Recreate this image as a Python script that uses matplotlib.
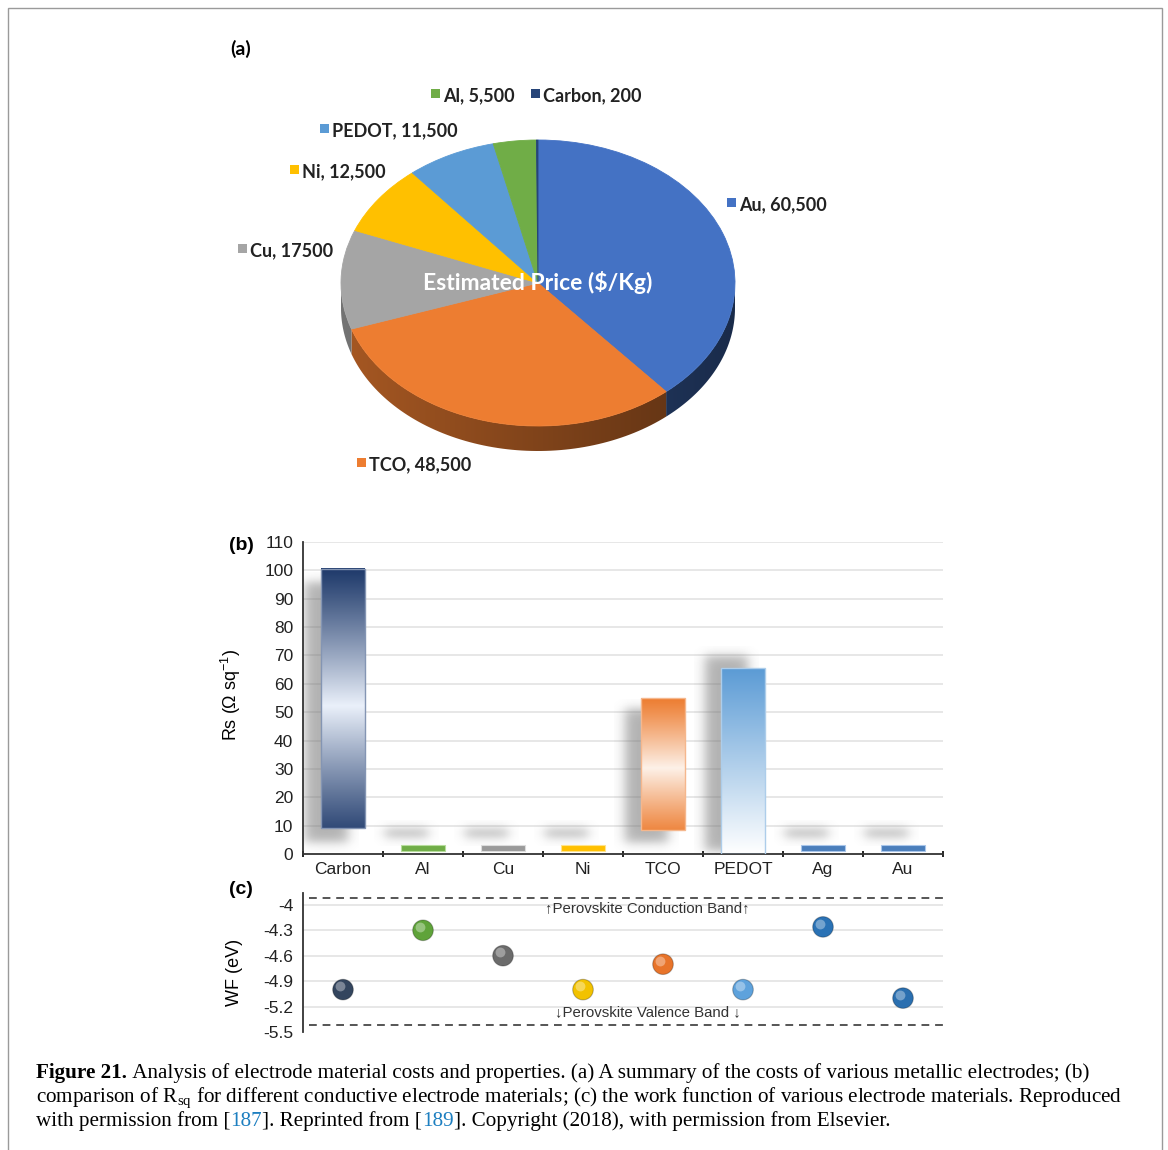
import numpy as np
import matplotlib
matplotlib.use('Agg')
import matplotlib.pyplot as plt
import matplotlib.transforms as mtransforms
from matplotlib.colors import to_rgb
from matplotlib.patches import Polygon, Rectangle

W, H = 1168, 1150

# (a) estimated price ($/Kg)
price_names = ['Au', 'TCO', 'Cu', 'Ni', 'PEDOT', 'Al', 'Carbon']
price_values = [60500, 48500, 17500, 12500, 11500, 5500, 200]
price_text = ['Au, 60,500', 'TCO, 48,500', 'Cu, 17500', 'Ni, 12,500',
              'PEDOT, 11,500', 'Al, 5,500', 'Carbon, 200']
price_colors = ['#4472c4', '#ed7d31', '#a5a5a5', '#ffc000', '#5b9bd5', '#70ad47', '#264478']

# (b) sheet resistance (floating bars)
materials = ['Carbon', 'Al', 'Cu', 'Ni', 'TCO', 'PEDOT', 'Ag', 'Au']
rs_low = [9, 1, 1, 1, 8.5, 0, 1, 1]
rs_high = [100.5, 3, 3, 3, 55, 65.5, 3, 3]
shadow_low = [4, 6, 6, 6, 4, 1, 6, 6]
shadow_high = [96, 8.5, 8.5, 8.5, 51, 70, 8.5, 8.5]
rs_ticks = list(range(0, 111, 10))

# (c) work function
wf = [-5.0, -4.3, -4.6, -5.0, -4.7, -5.0, -4.26, -5.1]
band_edges = [-3.92, -5.42]
wf_ticks = [-4, -4.3, -4.6, -4.9, -5.2, -5.5]
wf_ticklabels = ['-4', '-4.3', '-4.6', '-4.9', '-5.2', '-5.5']

bar_colors = ['#1f3a6b', '#70ad47', '#9a9a9a', '#ffc000', '#ed7d31', '#5b9bd5', '#4a7ebb', '#4a7ebb']
bar_light = ['#eaf0fa', '#b7dd9c', '#dcdcdc', '#ffe38a', '#fdf1e8', '#ffffff', '#a9c6ea', '#a9c6ea']
bar_style = ['mid', 'solid', 'solid', 'solid', 'mid', 'fade', 'solid', 'solid']
ball_colors = ['#33455e', '#5fa33a', '#6b6b6b', '#f2c200', '#e8742a', '#5ea2dc', '#2a72b5', '#2a6fb0']

SANS = ['Liberation Sans', 'DejaVu Sans']
PIEFONT = ['Lato', 'Liberation Sans', 'DejaVu Sans']


def box(x0, y0, x1, y1):
    return [x0 / W, 1 - y1 / H, (x1 - x0) / W, (y1 - y0) / H]


fig = plt.figure(figsize=(W / 100, H / 100), dpi=100)
fig.patch.set_facecolor('white')
fig.add_artist(Rectangle((8 / W, -0.01), 1154 / W, 1 - 8 / H + 0.01, transform=fig.transFigure,
                         fill=False, edgecolor='#9a9a9a', linewidth=1))

# ---------------- (a) pie ----------------
ax_a = fig.add_axes(box(200, 60, 880, 490))
cx, cy, rx, ry = 538, 283, 197, 143
depth = 25 / ry

vals = np.array(price_values, dtype=float)
edges = 90 - 360 * np.concatenate([[0], np.cumsum(vals) / vals.sum()])
for i in range(len(vals)):
    lo, hi = edges[i + 1], edges[i]
    for k in (-1, 0, 1):
        a0, a1 = max(lo, -180 + 360 * k), min(hi, 360 * k)
        if a1 <= a0:
            continue
        th = np.radians(np.linspace(a0, a1, 80))
        top = np.column_stack([np.cos(th), np.sin(th)])
        bot = np.column_stack([np.cos(th), np.sin(th) - depth])[::-1]
        poly = Polygon(np.vstack([top, bot]), closed=True, facecolor='none',
                       edgecolor='none', transform=ax_a.transData)
        ax_a.add_patch(poly)
        xs = np.linspace(-1, 1, 120)
        fac = 0.7 - 0.32 * (xs + 1) / 2
        img = np.ones((2, len(xs), 4))
        img[..., :3] = np.array(to_rgb(price_colors[i]))[None, None, :] * fac[None, :, None]
        im = ax_a.imshow(img, extent=(-1, 1, -1 - depth, 0.1), origin='lower',
                         aspect='auto', zorder=1, interpolation='bilinear')
        im.set_clip_path(poly)

wedges, _ = ax_a.pie(price_values, colors=price_colors, startangle=90, counterclock=False,
                     radius=1, wedgeprops={'linewidth': 0})
for w_, col in zip(wedges, price_colors):
    w_.set_edgecolor(col)
    w_.set_linewidth(0.6)
    w_.set_zorder(3)
ax_a.set_aspect('auto')
ax_a.set_xlim((200 - cx) / rx, (880 - cx) / rx)
ax_a.set_ylim(-(490 - cy) / ry, (cy - 60) / ry)
ax_a.axis('off')
ax_a.text(0, 0.0, 'Estimated Price ($/Kg)', color='white', fontsize=16.5, fontweight='bold',
          family=PIEFONT, ha='center', va='center', zorder=5)

label_pos = [(727, 205), (357, 465), (238, 251), (290, 172), (320, 131), (431, 96), (531, 96)]
for (lx, ly), txt, col in zip(label_pos, price_text, price_colors):
    fig.add_artist(Rectangle((lx / W, 1 - (ly + 2) / H), 9 / W, 9 / H,
                             transform=fig.transFigure, facecolor=col, edgecolor='none'))
    fig.text((lx + 12) / W, 1 - ly / H, txt, fontsize=13, fontweight='bold',
             family=PIEFONT, ha='left', va='center', color='#222222')
fig.text(230 / W, 1 - 49 / H, '(a)', fontsize=14, fontweight='bold', family=PIEFONT,
         ha='left', va='center')


# ---------------- (b) bars ----------------
def soft_shadow(ax, x0, x1, y0, y1, bx, by, alpha=0.55):
    xs = np.linspace(x0 - 3 * bx, x1 + 3 * bx, 80)
    ys = np.linspace(y0 - 3 * by, y1 + 3 * by, 200)
    sx = 1 / (1 + np.exp(-(xs - x0) / bx)) / (1 + np.exp(-(x1 - xs) / bx))
    sy = 1 / (1 + np.exp(-(ys - y0) / by)) / (1 + np.exp(-(y1 - ys) / by))
    img = np.zeros((len(ys), len(xs), 4))
    img[..., :3] = 0.45
    img[..., 3] = alpha * np.outer(sy, sx)
    ax.imshow(img, extent=(xs[0], xs[-1], ys[0], ys[-1]), origin='lower',
              aspect='auto', zorder=1, interpolation='bilinear')


ax_b = fig.add_axes(box(303, 542, 943, 854))
xpos = np.arange(len(materials))
bw = 0.54
for yv in rs_ticks[1:]:
    ax_b.axhline(yv, color='#e3e3e3', linewidth=1.2, zorder=0)

for i, xc in enumerate(xpos):
    soft_shadow(ax_b, xc - 0.21 - bw / 2, xc - 0.21 + bw / 2, shadow_low[i], shadow_high[i],
                0.045, 1.1)
    lo, hi = rs_low[i], rs_high[i]
    dark, light = np.array(to_rgb(bar_colors[i])), np.array(to_rgb(bar_light[i]))
    if bar_style[i] == 'solid':
        ax_b.add_patch(Rectangle((xc - bw / 2, lo), bw, hi - lo, facecolor=dark,
                                 edgecolor=light, linewidth=0.8, zorder=2))
        continue
    t = np.linspace(0, 1, 300)[:, None]
    if bar_style[i] == 'mid':
        wgt = np.clip(1 - np.abs(t - 0.47) / 0.53, 0, 1) ** 1.1
    else:
        wgt = (1 - t) ** 1.0
    img = dark[None, None, :] + (light - dark)[None, None, :] * wgt[:, :, None]
    img = np.repeat(img, 2, axis=1)
    ax_b.imshow(img, extent=(xc - bw / 2, xc + bw / 2, lo, hi), origin='lower',
                aspect='auto', zorder=2, interpolation='bilinear')
    ax_b.add_patch(Rectangle((xc - bw / 2, lo), bw, hi - lo, facecolor='none',
                             edgecolor=0.5 * light + 0.5 * dark, linewidth=1.0, zorder=3))

ax_b.set_xlim(-0.5, 7.5)
ax_b.set_ylim(0, 110)
ax_b.set_yticks(rs_ticks)
ax_b.set_xticks(xpos)
ax_b.set_xticklabels(materials)
ax_b.set_xticks(np.arange(-0.5, 8, 1), minor=True)
ax_b.tick_params(axis='x', which='major', length=0, pad=6, labelsize=12.5)
ax_b.tick_params(axis='x', which='minor', length=4, direction='inout', width=1.2)
ax_b.tick_params(axis='y', length=0, pad=7, labelsize=12.5)
for lab in ax_b.get_xticklabels() + ax_b.get_yticklabels():
    lab.set_family(SANS)
    lab.set_color('#222222')
for s in ['top', 'right']:
    ax_b.spines[s].set_visible(False)
for s in ['left', 'bottom']:
    ax_b.spines[s].set_linewidth(1.3)
    ax_b.spines[s].set_color('#333333')
ax_b.set_ylabel('Rs (\u03a9 sq$^{\\mathregular{-1}}$)', fontsize=13, family=SANS)
ax_b.yaxis.set_label_coords((243 - 303) / 640, 0.51)
fig.text(229 / W, 1 - 546 / H, '(b)', fontsize=14, fontweight='bold', family=SANS,
         ha='left', va='center')

# ---------------- (c) work function ----------------
ax_c = fig.add_axes(box(303, 893, 943, 1032))
for yv in wf_ticks[:-1]:
    ax_c.axhline(yv, color='#e3e3e3', linewidth=1.2, zorder=0)
for yv in band_edges:
    ax_c.axhline(yv, xmin=0.01, color='#555555', linewidth=1.4, linestyle=(0, (4, 3)), zorder=1)
ax_c.scatter(xpos, wf, s=220, c=ball_colors, edgecolors='#00000040', linewidths=0.8, zorder=3)
hl = mtransforms.offset_copy(ax_c.transData, fig=fig, x=-2.2, y=2.4, units='points')
ax_c.scatter(xpos, wf, s=50, c='white', alpha=0.35, linewidths=0, zorder=4, transform=hl)
ax_c.text(3.81, -4.04, '\u2191Perovskite Conduction Band\u2191', ha='center', va='center',
          fontsize=10.8, family=SANS, color='#333333')
ax_c.text(3.81, -5.265, '\u2193Perovskite Valence Band \u2193', ha='center', va='center',
          fontsize=10.8, family=SANS, color='#333333')
ax_c.set_xlim(-0.5, 7.5)
ax_c.set_ylim(-5.5, -3.86)
ax_c.set_yticks(wf_ticks)
ax_c.set_yticklabels(wf_ticklabels)
ax_c.set_xticks([])
ax_c.tick_params(axis='y', length=0, pad=7, labelsize=12.5)
for lab in ax_c.get_yticklabels():
    lab.set_family(SANS)
    lab.set_color('#222222')
for s in ['top', 'right', 'bottom']:
    ax_c.spines[s].set_visible(False)
ax_c.spines['left'].set_linewidth(1.3)
ax_c.spines['left'].set_color('#333333')
ax_c.set_ylabel('WF (eV)', fontsize=13, family=SANS)
ax_c.yaxis.set_label_coords((243 - 303) / 640, 0.43)
fig.text(229 / W, 1 - 890 / H, '(c)', fontsize=14, fontweight='bold', family=SANS,
         ha='left', va='center')

# ---------------- caption ----------------
renderer = fig.canvas.get_renderer()
CAP = dict(fontsize=15.2, family='Liberation Serif', va='baseline', ha='left')


def caption_line(y, pieces):
    x = 36
    for s, kw in pieces:
        t = fig.text(x / W, 1 - y / H, s, **CAP, **kw)
        x += t.get_window_extent(renderer=renderer).width


blue = {'color': '#1d7fc0'}
caption_line(1078, [('Figure 21.', {'fontweight': 'bold'}),
                    ('\u00a0Analysis of electrode material costs and properties. (a) A summary of the '
                     'costs of various metallic electrodes; (b)', {})])
caption_line(1102, [('comparison of R$_{\\mathregular{sq}}$ for different conductive electrode '
                     'materials; (c) the work function of various electrode materials. Reproduced', {})])
caption_line(1126, [('with permission from [', {}), ('187', blue), ('].\u00a0Reprinted from [', {}),
                    ('189', blue), ('].\u00a0Copyright (2018), with permission from Elsevier.', {})])

fig.savefig('out.png', dpi=100)
